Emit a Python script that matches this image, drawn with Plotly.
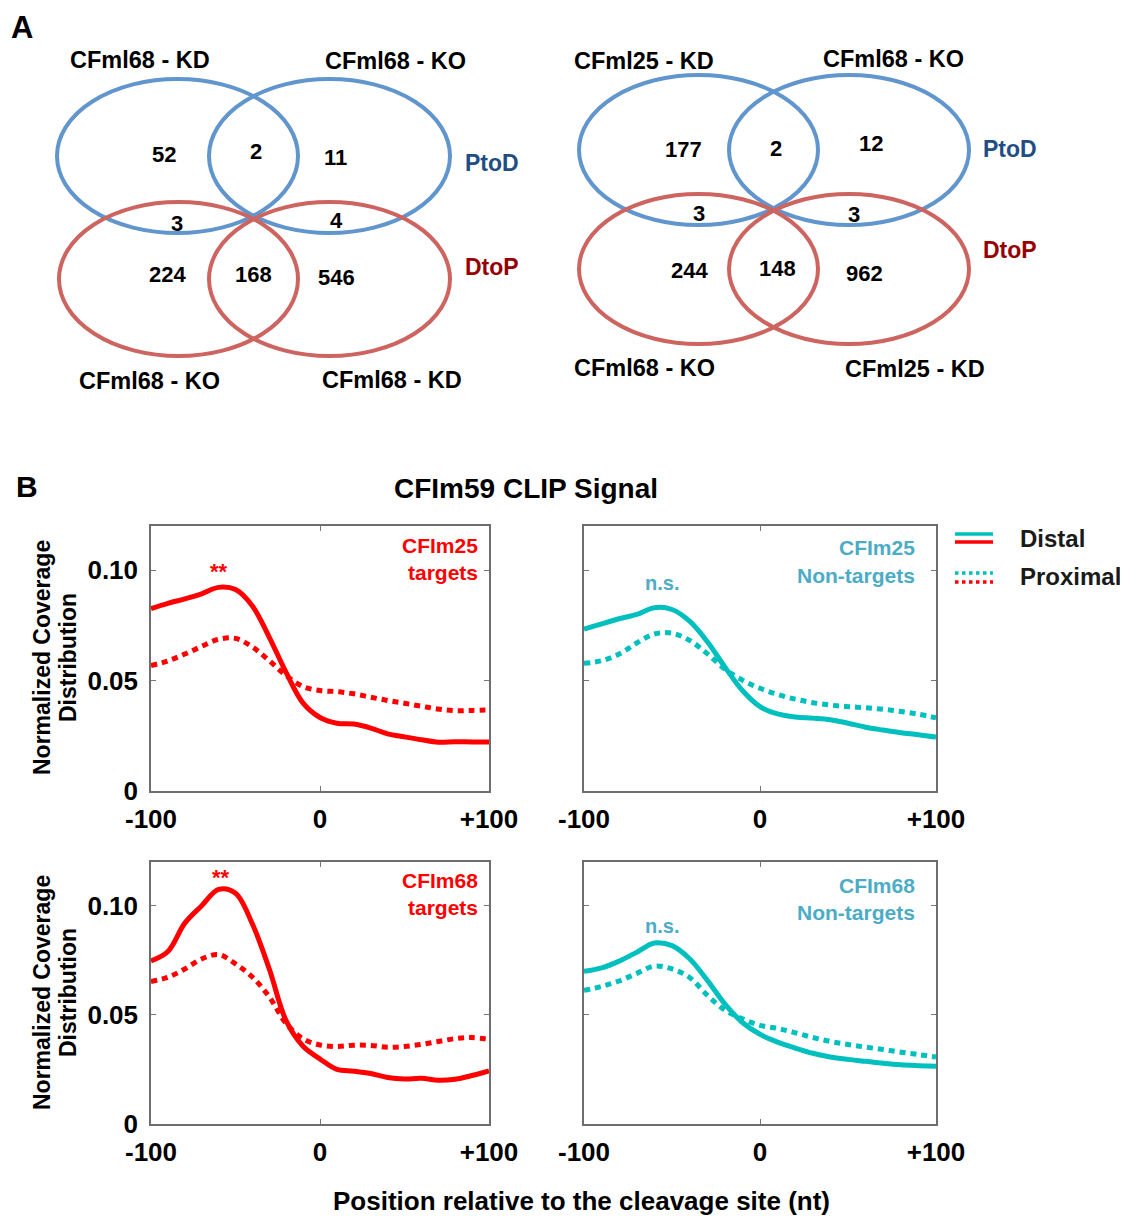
import plotly.graph_objects as go

# page is 1128x1216 with an 8px body margin, so the figure itself is 1120x1208
OFF = 8
W, H = 1120, 1208
FONT = "Liberation Sans, Arial, sans-serif"

# ---------------- data ----------------
positions = [-100, -90, -80, -70, -60, -50, -40, -30, -20, -10, 0,
             10, 20, 30, 40, 50, 60, 70, 80, 90, 100]

cfim25_targets_distal = [0.0826, 0.0850, 0.0870, 0.0893, 0.0922, 0.0912, 0.0838, 0.0696, 0.0536, 0.0398, 0.0333,
                         0.0307, 0.0303, 0.0285, 0.0259, 0.0245, 0.0232, 0.0221, 0.0223, 0.0222, 0.0222]
cfim25_targets_proximal = [0.0568, 0.0589, 0.0620, 0.0655, 0.0687, 0.0691, 0.0652, 0.0590, 0.0522, 0.0473, 0.0455,
                           0.0450, 0.0440, 0.0425, 0.0410, 0.0397, 0.0384, 0.0371, 0.0364, 0.0365, 0.0367]
cfim25_nontargets_distal = [0.0733, 0.0757, 0.0780, 0.0800, 0.0830, 0.0822, 0.0769, 0.0677, 0.0562, 0.0455, 0.0382,
                            0.0349, 0.0335, 0.0330, 0.0323, 0.0307, 0.0289, 0.0276, 0.0264, 0.0255, 0.0244]
cfim25_nontargets_proximal = [0.0578, 0.0590, 0.0620, 0.0670, 0.0711, 0.0715, 0.0682, 0.0622, 0.0552, 0.0502, 0.0465,
                              0.0437, 0.0416, 0.0400, 0.0389, 0.0382, 0.0377, 0.0370, 0.0360, 0.0348, 0.0331]
cfim68_targets_distal = [0.0747, 0.0790, 0.0920, 0.1000, 0.1075, 0.1057, 0.0916, 0.0710, 0.0472, 0.0356, 0.0298,
                         0.0250, 0.0242, 0.0231, 0.0213, 0.0206, 0.0209, 0.0200, 0.0205, 0.0222, 0.0243]
cfim68_targets_proximal = [0.0653, 0.0672, 0.0710, 0.0756, 0.0776, 0.0733, 0.0673, 0.0582, 0.0460, 0.0390, 0.0362,
                           0.0355, 0.0361, 0.0360, 0.0352, 0.0355, 0.0365, 0.0378, 0.0391, 0.0396, 0.0387]
cfim68_nontargets_distal = [0.0699, 0.0715, 0.0746, 0.0787, 0.0829, 0.0817, 0.0757, 0.0659, 0.0550, 0.0465, 0.0411,
                            0.0375, 0.0348, 0.0324, 0.0307, 0.0296, 0.0287, 0.0278, 0.0271, 0.0267, 0.0264]
cfim68_nontargets_proximal = [0.0612, 0.0630, 0.0655, 0.0690, 0.0723, 0.0710, 0.0671, 0.0590, 0.0522, 0.0482, 0.0452,
                              0.0438, 0.0418, 0.0396, 0.0378, 0.0364, 0.0352, 0.0341, 0.0329, 0.0318, 0.0307]

x_tickvals = [-100, 0, 100]
x_ticktext = ["-100", "0", "+100"]
y_tickvals = [0, 0.05, 0.10]
y_ticktext = ["0", "0.05", "0.10"]

# Venn diagrams: region counts
venn1_sets = ["CFml68 - KD", "CFml68 - KO", "CFml68 - KO", "CFml68 - KD"]
venn1_counts = [52, 2, 11, 3, 4, 224, 168, 546]
venn2_sets = ["CFml25 - KD", "CFml68 - KO", "CFml68 - KO", "CFml25 - KD"]
venn2_counts = [177, 2, 12, 3, 3, 244, 148, 962]
venn_groups = ["PtoD", "DtoP"]

panel_labels = ["CFIm25<br>targets", "CFIm25<br>Non-targets", "CFIm68<br>targets", "CFIm68<br>Non-targets"]
panel_signif = ["**", "n.s.", "**", "n.s."]

# ---------------- styles ----------------
RED = "#ff0000"
TEAL = "#00bfbf"
LBLUE = "#4bacc6"
VBLUE = "#6096cd"
VRED = "#cd645f"
PTOD = "#1f4e85"
DTOP = "#960000"


def px(x):
    return (x - OFF) / W


def py(y):
    return 1 - (y - OFF) / H


fig = go.Figure()

# plot boxes (page pixels): left, right, top, bottom
boxes = [(151, 489, 526, 791), (584, 936, 526, 791),
         (151, 489, 862, 1124), (584, 936, 862, 1124)]
series = [(cfim25_targets_distal, cfim25_targets_proximal, RED),
          (cfim25_nontargets_distal, cfim25_nontargets_proximal, TEAL),
          (cfim68_targets_distal, cfim68_targets_proximal, RED),
          (cfim68_nontargets_distal, cfim68_nontargets_proximal, TEAL)]

for i, ((l, r, t, b), (dist, prox, col)) in enumerate(zip(boxes, series)):
    n = i + 1
    xa = "x" if n == 1 else f"x{n}"
    ya = "y" if n == 1 else f"y{n}"
    fig.add_trace(go.Scatter(x=positions, y=prox, mode="lines", xaxis=xa, yaxis=ya,
                             line=dict(color=col, width=5, dash="6px,5px", shape="spline", smoothing=1.0),
                             showlegend=False, hoverinfo="skip"))
    fig.add_trace(go.Scatter(x=positions, y=dist, mode="lines", xaxis=xa, yaxis=ya,
                             line=dict(color=col, width=5, shape="spline", smoothing=1.0),
                             showlegend=False, hoverinfo="skip"))
    xkey = "xaxis" if n == 1 else f"xaxis{n}"
    ykey = "yaxis" if n == 1 else f"yaxis{n}"
    fig.update_layout(**{
        xkey: dict(domain=[px(l), px(r)], anchor=ya, range=[-100, 100],
                   tickvals=x_tickvals, ticktext=x_ticktext, ticks="inside", ticklen=5,
                   tickcolor="#777", tickwidth=1, showline=True, linecolor="#6e6e6e", linewidth=1.5,
                   mirror="ticks", showgrid=False, zeroline=False, ticklabelstandoff=4,
                   tickfont=dict(family=FONT, size=26, color="black", weight="bold")),
        ykey: dict(domain=[py(b), py(t)], anchor=xa, range=[0, 0.12],
                   tickvals=y_tickvals, ticktext=y_ticktext, ticks="inside", ticklen=5,
                   tickcolor="#777", tickwidth=1, showline=True, linecolor="#6e6e6e", linewidth=1.5,
                   mirror="ticks", showgrid=False, zeroline=False, ticklabelstandoff=6,
                   showticklabels=(n in (1, 3)),
                   tickfont=dict(family=FONT, size=26, color="black", weight="bold")),
    })

ann = []


def text(x, y, s, size, color="black", xanchor="center", angle=0, bold=True):
    ann.append(dict(x=px(x), y=py(y), xref="paper", yref="paper", text=s, showarrow=False,
                    xanchor=xanchor, yanchor="middle", textangle=angle,
                    font=dict(family=FONT, size=size, color=color, weight="bold" if bold else "normal")))


# panel letters and titles
text(22, 28, "A", 31)
text(27, 486, "B", 30)
text(526, 488, "CFIm59 CLIP Signal", 28)
text(581, 1201, "Position relative to the cleavage site (nt)", 26)
for yc in (658, 993):
    text(42, yc, "Normalized Coverage", 23, angle=-90)
    text(68, yc, "Distribution", 23, angle=-90)

# in-panel labels
label_pos = [(480, 545, 572, 219, 571, RED), (917, 548, 575, 662, 583, LBLUE),
             (480, 880, 907, 221, 877, RED), (917, 885, 912, 662, 926, LBLUE)]
for lab, sig, (xr, y1, y2, sx, sy, c) in zip(panel_labels, panel_signif, label_pos):
    l1, l2 = lab.split("<br>")
    text(xr, y1, l1, 21, c, xanchor="right")
    text(xr, y2, l2, 21, c, xanchor="right")
    text(sx, sy, sig, 22 if sig == "**" else 20, c)

# legend
shapes = []
for (y, c, d) in [(534, TEAL, "solid"), (542, RED, "solid"), (573, TEAL, "dot"), (582, RED, "dot")]:
    shapes.append(dict(type="line", xref="paper", yref="paper", x0=px(955), x1=px(993), y0=py(y), y1=py(y),
                       line=dict(color=c, width=3.5, dash=d)))
text(1018, 539, "Distal", 24, "#1a1a1a", xanchor="left")
text(1018, 577, "Proximal", 24, "#1a1a1a", xanchor="left")

# Venn diagrams
venn_layouts = [
    dict(ell=[(57, 298, 79, 233, VBLUE), (209, 450, 79, 233, VBLUE),
              (59, 298, 202, 356, VRED), (209, 450, 202, 356, VRED)],
         nums=[(164, 154), (256, 152), (335, 157), (177, 223), (336, 220), (167, 275), (253, 275), (336, 277)],
         labs=[(140, 60), (395, 61), (149, 381), (392, 380)],
         grp=[(492, 163), (492, 267)]),
    dict(ell=[(579, 818, 75, 225, VBLUE), (729, 969, 75, 225, VBLUE),
              (579, 818, 194, 344, VRED), (729, 969, 194, 344, VRED)],
         nums=[(683, 149), (776, 148), (871, 143), (699, 213), (854, 214), (689, 270), (777, 268), (865, 273)],
         labs=[(644, 61), (893, 59), (644, 368), (915, 369)],
         grp=[(1010, 149), (1010, 250)]),
]
for lay, sets, counts in zip(venn_layouts, [venn1_sets, venn2_sets], [venn1_counts, venn2_counts]):
    for (x0, x1, y0, y1, c) in lay["ell"]:
        shapes.append(dict(type="circle", xref="paper", yref="paper", x0=px(x0), x1=px(x1),
                           y0=py(y1), y1=py(y0), line=dict(color=c, width=4), fillcolor="rgba(0,0,0,0)"))
    for (x, y), v in zip(lay["nums"], counts):
        text(x, y, str(v), 22)
    for (x, y), s in zip(lay["labs"], sets):
        text(x, y, s, 23.5)
    for (x, y), g, c in zip(lay["grp"], venn_groups, [PTOD, DTOP]):
        text(x, y, g, 23, c)

fig.update_layout(width=W, height=H, margin=dict(l=0, r=0, t=0, b=0, autoexpand=False),
                  paper_bgcolor="white", plot_bgcolor="white",
                  annotations=ann, shapes=shapes, showlegend=False)

fig.write_html("out.html")
